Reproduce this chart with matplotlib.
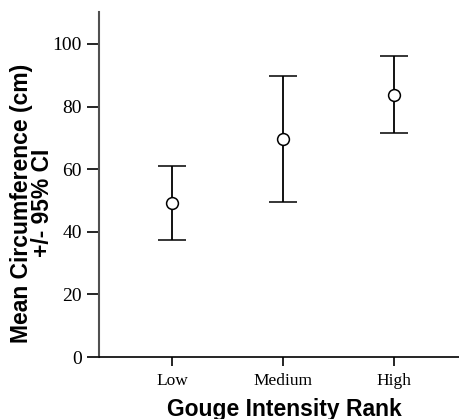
import matplotlib
matplotlib.use("Agg")
import matplotlib.pyplot as plt

categories = ["Low", "Medium", "High"]
means = [49.3, 69.6, 83.8]
lower = [37.5, 49.6, 71.5]
upper = [61.0, 89.7, 96.2]
yticks = [0, 20, 40, 60, 80, 100]

fig = plt.figure(figsize=(4.59, 4.19), dpi=100)
ax = fig.add_axes([98.5 / 459, 62 / 419, 1 - 98.5 / 459, (357 - 12) / 419])

x = list(range(1, len(categories) + 1))
yerr = [[m - l for m, l in zip(means, lower)], [u - m for m, u in zip(means, upper)]]
ax.errorbar(x, means, yerr=yerr, fmt='o', mfc='white', mec='black', ecolor='black',
            ms=8.5, mew=1.1, elinewidth=1.3, capsize=9.9, capthick=1.3, color='black')

ax.set_xlim(0.338, 3.586)
ax.set_ylim(0, 110.2)
ax.set_xticks(x)
ax.set_xticklabels(categories, family='Liberation Serif', fontsize=12.5)
ax.set_yticks(yticks)
ax.set_yticklabels([str(v) for v in yticks], family='Liberation Serif', fontsize=14)
ax.tick_params(axis='y', length=8.6, width=1.2, pad=3.5, color='black')
ax.tick_params(axis='x', length=6.5, width=1.2, pad=5, color='black')

for s in ['top', 'right']:
    ax.spines[s].set_visible(False)
ax.spines['left'].set_color('#505050')
ax.spines['left'].set_linewidth(1.5)
ax.spines['bottom'].set_color('black')
ax.spines['bottom'].set_linewidth(1.2)

fig.text(32 / 459, 1 - 203 / 419, "Mean Circumference (cm)\n+/- 95% CI", rotation=90,
         ha='center', va='center', multialignment='center',
         family='Liberation Sans', fontweight='bold', fontsize=16.5, linespacing=0.9)
fig.text(284 / 459, 1 - 416 / 419, "Gouge Intensity Rank", ha='center', va='baseline',
         family='Liberation Sans', fontweight='bold', fontsize=16.5)

fig.savefig("out.png", dpi=100)
